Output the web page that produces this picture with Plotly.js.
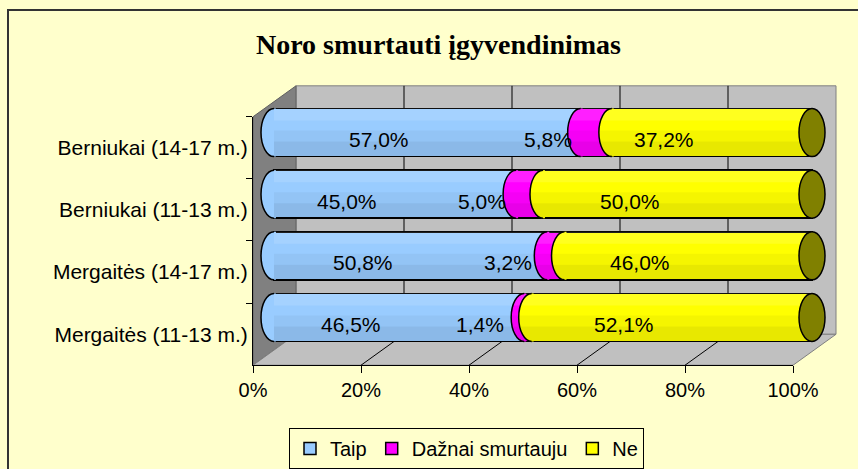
<!DOCTYPE html>
<html>
<head>
<meta charset="utf-8">
<script src="https://cdn.plot.ly/plotly-3.0.1.min.js"></script>
<style>html,body{margin:0;padding:0;background:#FFFFCC;}#chart{width:858px;height:469px;}</style>
</head>
<body>
<div id="chart"></div>
<script>
// ---- data ----
const categories = ['Berniukai (14-17 m.)', 'Berniukai (11-13 m.)', 'Mergaitės (14-17 m.)', 'Mergaitės (11-13 m.)'];
const seriesNames = ['Taip', 'Dažnai smurtauju', 'Ne'];
const taip = [57.0, 45.0, 50.8, 46.5];
const daznai = [5.8, 5.0, 3.2, 1.4];
const ne = [37.2, 50.0, 46.0, 52.1];
const xTicks = [0, 20, 40, 60, 80, 100];
const xTickText = ['0%', '20%', '40%', '60%', '80%', '100%'];
const titleText = 'Noro smurtauti įgyvendinimas';

// ---- styling ----
const W = 858, H = 469;
const px = x => x / W;
const py = y => 1 - y / H;
const colors = ['#99CCFF', '#FF00FF', '#FFFF00'];
const capColor = '#808000';
const FONT = 'Liberation Sans, Arial, sans-serif';
const series = [taip, daznai, ne];

// 3D frame geometry (pixels)
const FX0 = 253, FX1 = 793, FY0 = 117, FY1 = 366, DX = 43, DY = -31;
const fx = t => FX0 + (t / 100) * (FX1 - FX0);
// bar (mid-depth) axis geometry
const BX0 = 274, BX1 = 812, PAD = 24;
const unitPx = (BX1 - BX0) / 100;
const padU = PAD / unitPx;

const shapes = [];
// outer chart border
shapes.push({type: 'rect', xref: 'paper', yref: 'paper', x0: px(8), x1: px(870), y0: py(10), y1: py(490),
  line: {color: '#333333', width: 2}, fillcolor: 'rgba(0,0,0,0)', layer: 'below'});
// back wall
shapes.push({type: 'rect', xref: 'paper', yref: 'paper', x0: px(FX0 + DX), x1: px(FX1 + DX), y0: py(FY1 + DY), y1: py(FY0 + DY),
  line: {color: '#808080', width: 1}, fillcolor: '#C0C0C0', layer: 'below'});
const P = (x, y) => px(x) + ',' + py(y);
// left wall
shapes.push({type: 'path', xref: 'paper', yref: 'paper', layer: 'below',
  path: 'M' + P(FX0, FY0) + ' L' + P(FX0 + DX, FY0 + DY) + ' L' + P(FX0 + DX, FY1 + DY) + ' L' + P(FX0, FY1) + ' Z',
  fillcolor: '#808080', line: {color: '#606060', width: 1}});
// floor
shapes.push({type: 'path', xref: 'paper', yref: 'paper', layer: 'below',
  path: 'M' + P(FX0, FY1) + ' L' + P(FX0 + DX, FY1 + DY) + ' L' + P(FX1 + DX, FY1 + DY) + ' L' + P(FX1, FY1) + ' Z',
  fillcolor: '#C0C0C0', line: {color: '#808080', width: 1}});
// gridlines on back wall and floor
xTicks.forEach(t => {
  if (t > 0 && t < 100) {
    shapes.push({type: 'line', xref: 'paper', yref: 'paper', layer: 'below',
      x0: px(fx(t) + DX), x1: px(fx(t) + DX), y0: py(FY0 + DY), y1: py(FY1 + DY), line: {color: '#000', width: 1}});
    shapes.push({type: 'line', xref: 'paper', yref: 'paper', layer: 'below',
      x0: px(fx(t)), x1: px(fx(t) + DX), y0: py(FY1), y1: py(FY1 + DY), line: {color: '#000', width: 1}});
  }
});

// cylinder decorations (derived from data through the bar axes)
const RX = 13, RY = 24, K = 0.5523;
const fillPath = 'M 2,' + RY + ' L 0,' + RY + ' C ' + (-K * RX) + ',' + RY + ' ' + (-RX) + ',' + (K * RY) + ' ' + (-RX) + ',0 C ' +
  (-RX) + ',' + (-K * RY) + ' ' + (-K * RX) + ',' + (-RY) + ' 0,' + (-RY) + ' L 2,' + (-RY) + ' Z';
const strokePath = 'M 0,' + RY + ' C ' + (-K * RX) + ',' + RY + ' ' + (-RX) + ',' + (K * RY) + ' ' + (-RX) + ',0 C ' +
  (-RX) + ',' + (-K * RY) + ' ' + (-K * RX) + ',' + (-RY) + ' 0,' + (-RY);

const annotations = [];
categories.forEach((cat, i) => {
  let cum = 0;
  const starts = [];
  series.forEach((s, j) => {
    starts.push(cum);
    shapes.push({type: 'path', xref: 'x', yref: 'y', xsizemode: 'pixel', ysizemode: 'pixel',
      xanchor: cum, yanchor: cat, path: fillPath, fillcolor: colors[j], line: {width: 0}, layer: 'above'});
    annotations.push({xref: 'x', yref: 'y', x: cum + s[i] / 2, y: cat, xshift: -48, yshift: -7,
      text: s[i].toFixed(1).replace('.', ',') + '%', showarrow: false,
      font: {family: FONT, size: 21, color: '#000'}});
    cum += s[i];
  });
  // shading bands
  shapes.push({type: 'rect', xref: 'x', yref: 'y', ysizemode: 'pixel', yanchor: cat, x0: 0, x1: cum,
    y0: -RY, y1: -9, fillcolor: 'rgba(0,0,0,0.09)', line: {width: 0}, layer: 'above'});
  shapes.push({type: 'rect', xref: 'x', yref: 'y', ysizemode: 'pixel', yanchor: cat, x0: 0, x1: cum,
    y0: -9, y1: 2, fillcolor: 'rgba(0,0,0,0.04)', line: {width: 0}, layer: 'above'});
  shapes.push({type: 'rect', xref: 'x', yref: 'y', ysizemode: 'pixel', yanchor: cat, x0: 0, x1: cum,
    y0: 12, y1: RY, fillcolor: 'rgba(255,255,255,0.12)', line: {width: 0}, layer: 'above'});
  starts.forEach(st => {
    shapes.push({type: 'path', xref: 'x', yref: 'y', xsizemode: 'pixel', ysizemode: 'pixel',
      xanchor: st, yanchor: cat, path: strokePath, fillcolor: 'rgba(0,0,0,0)', line: {color: '#000', width: 1.5}, layer: 'above'});
  });
  shapes.push({type: 'circle', xref: 'x', yref: 'y', xsizemode: 'pixel', ysizemode: 'pixel',
    xanchor: cum, yanchor: cat, x0: -RX, x1: RX, y0: -RY, y1: RY,
    fillcolor: capColor, line: {color: '#000', width: 1.5}, layer: 'above'});
});

const traces = series.map((s, j) => ({
  type: 'bar', orientation: 'h', name: seriesNames[j], x: s, y: categories,
  xaxis: 'x', yaxis: 'y', width: 0.78,
  marker: {color: colors[j], line: {color: '#000', width: 1.5}},
  hoverinfo: 'skip'
}));
// empty trace so that the front (3D box) axes get drawn
traces.push({type: 'scatter', mode: 'markers', x: [], y: [], xaxis: 'x2', yaxis: 'y2', showlegend: false, hoverinfo: 'skip'});

const layout = {
  width: W, height: H,
  margin: {l: 0, r: 0, t: 0, b: 0},
  paper_bgcolor: '#FFFFCC', plot_bgcolor: 'rgba(0,0,0,0)',
  barmode: 'stack',
  title: {text: titleText, x: px(438.5), xanchor: 'center', y: py(44), yanchor: 'middle',
    font: {family: 'Liberation Serif, Times New Roman, serif', size: 28, weight: 'bold', color: '#000'}},
  // bar axes (hidden, mid-depth of the 3D box), padded so the round ends are not clipped
  xaxis: {domain: [px(BX0 - PAD), px(BX1 + PAD)], range: [-padU, 100 + padU], visible: false, fixedrange: true, anchor: 'y'},
  yaxis: {domain: [py(349), py(102)], type: 'category', categoryorder: 'array', categoryarray: categories,
    range: [3.5, -0.5], visible: false, fixedrange: true, anchor: 'x'},
  // front axes
  xaxis2: {domain: [px(FX0), px(FX1)], range: [0, 100], anchor: 'y2', tickvals: xTicks, ticktext: xTickText,
    ticks: 'outside', ticklen: 7, tickcolor: '#000', tickwidth: 1, showline: true, linecolor: '#000', linewidth: 1,
    showgrid: false, zeroline: false, tickfont: {family: FONT, size: 20, color: '#000'}, fixedrange: true},
  yaxis2: {domain: [py(FY1), py(FY0)], type: 'category', categoryorder: 'array', categoryarray: categories,
    range: [3.5, -0.5], anchor: 'x2', tickson: 'boundaries', ticks: 'outside', ticklen: 6, tickcolor: '#000',
    showline: true, linecolor: '#000', linewidth: 1, showgrid: false, zeroline: false,
    tickfont: {family: FONT, size: 21, color: '#000'}, fixedrange: true},
  showlegend: true,
  legend: {orientation: 'h', x: px(289), y: py(429), xanchor: 'left', yanchor: 'top',
    bordercolor: '#000', borderwidth: 1, bgcolor: 'rgba(0,0,0,0)',
    font: {family: FONT, size: 20, color: '#000'}, traceorder: 'normal'},
  shapes: shapes,
  annotations: annotations
};

Plotly.newPlot('chart', traces, layout, {staticPlot: true, displayModeBar: false});
</script>
</body>
</html>
